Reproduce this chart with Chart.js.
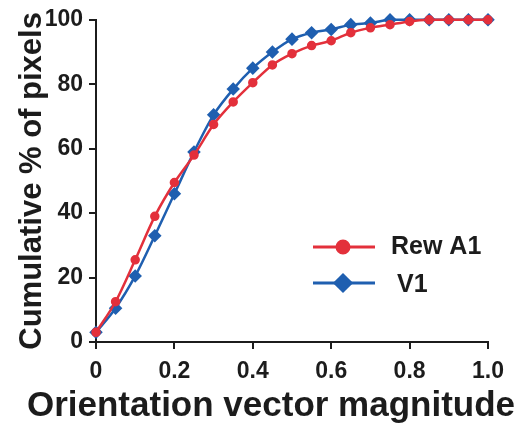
<!DOCTYPE html>
<html>
<head>
<meta charset="utf-8">
<script src="https://cdn.jsdelivr.net/npm/chart.js@4/dist/chart.umd.min.js"></script>
<style>
  html, body { margin: 0; padding: 0; background: #fff; }
  #wrap { width: 528px; height: 430px; }
</style>
</head>
<body>
<div id="wrap"><canvas id="cdf"></canvas></div>
<script>
// magnitude bins (x) and cumulative % for each area
const magnitudes = [0, 0.05, 0.1, 0.15, 0.2, 0.25, 0.3, 0.35, 0.4, 0.45, 0.5,
                    0.55, 0.6, 0.65, 0.7, 0.75, 0.8, 0.85, 0.9, 0.95, 1.0];
const rewA1 = [3, 12.5, 25.5, 39, 49.5, 58, 67.5, 74.5, 80.5, 86, 89.5,
               92, 93.5, 96, 97.5, 98.5, 99.5, 100, 100, 100, 100];
const v1 = [3, 10.5, 20.5, 33, 46, 59, 70.5, 78.5, 85, 90, 94,
            96, 97, 98.5, 99, 100, 100, 100, 100, 100, 100];
const xTicks = [0, 0.2, 0.4, 0.6, 0.8, 1.0];
const yTicks = [0, 20, 40, 60, 80, 100];

const RED = '#e3303b';
const BLUE = '#1f5fb0';
const INK = '#1c1c1c';
const FONT = '"Liberation Sans", Arial, sans-serif';

function toPoints(ys) {
    return magnitudes.map(function(x, i) { return { x: x, y: ys[i] }; });
}

// legend drawn inside the plot, lower right (line + marker like the figure)
const insideLegend = {
    id: 'insideLegend',
    afterDatasetsDraw: function(chart) {
        const ctx = chart.ctx;
        const rows = [{ y: 247, ty: 247 }, { y: 283, ty: 285 }];
        chart.data.datasets.forEach(function(ds, i) {
            const r = rows[i];
            ctx.save();
            ctx.strokeStyle = ds.borderColor;
            ctx.lineWidth = 3;
            ctx.beginPath();
            ctx.moveTo(313, r.y);
            ctx.lineTo(375, r.y);
            ctx.stroke();
            ctx.fillStyle = ds.backgroundColor;
            ctx.strokeStyle = ds.borderColor;
            Chart.helpers.drawPoint(ctx, {
                pointStyle: ds.pointStyle,
                radius: ds.pointStyle === 'circle' ? 6 : 8,
                borderWidth: 1
            }, 343, r.y);
            ctx.fillStyle = INK;
            ctx.font = 'bold 25px ' + FONT;
            ctx.textBaseline = 'middle';
            ctx.fillText(ds.label, i === 0 ? 391 : 397, r.ty);
            ctx.restore();
        });
    }
};

const ctx = document.getElementById('cdf').getContext('2d');
new Chart(ctx, {
    type: 'line',
    data: {
        datasets: [
            {
                label: 'Rew A1',
                data: toPoints(rewA1),
                borderColor: RED,
                backgroundColor: RED,
                borderWidth: 2.5,
                pointStyle: 'circle',
                pointRadius: 3.5,
                tension: 0.3,
                clip: false
            },
            {
                label: 'V1',
                data: toPoints(v1),
                borderColor: BLUE,
                backgroundColor: BLUE,
                borderWidth: 2.5,
                pointStyle: 'rectRot',
                pointRadius: 5,
                tension: 0.3,
                clip: false,
                order: 1
            }
        ]
    },
    options: {
        responsive: true,
        maintainAspectRatio: false,
        animation: false,
        layout: { padding: { top: 19, right: 0, left: 14, bottom: 0 } },
        plugins: {
            legend: { display: false },
            tooltip: { enabled: false },
            title: {
                display: true,
                position: 'bottom',
                text: 'Orientation vector magnitude',
                color: INK,
                font: { family: FONT, size: 35, weight: 'bold' },
                padding: { top: 0, bottom: 3 }
            }
        },
        scales: {
            x: {
                type: 'linear',
                min: 0,
                max: 1,
                afterFit: function(scale) { scale.height = 43; },
                afterBuildTicks: function(scale) {
                    scale.ticks = xTicks.map(function(v) { return { value: v }; });
                },
                grid: { drawOnChartArea: false, drawTicks: true, tickLength: 7, color: INK, lineWidth: 2 },
                border: { display: true, color: INK, width: 2 },
                ticks: {
                    color: INK,
                    padding: 9,
                    maxRotation: 0,
                    autoSkip: false,
                    font: { family: FONT, size: 23, weight: 'bold' },
                    callback: function(v) { return v === 0 ? '0' : v.toFixed(1); }
                }
            },
            y: {
                min: 0,
                max: 100,
                afterFit: function(scale) { scale.width = 82; },
                afterBuildTicks: function(scale) {
                    scale.ticks = yTicks.map(function(v) { return { value: v }; });
                },
                grid: { drawOnChartArea: false, drawTicks: true, tickLength: 7, color: INK, lineWidth: 2 },
                border: { display: true, color: INK, width: 2 },
                title: {
                    display: true,
                    text: 'Cumulative % of pixels',
                    color: INK,
                    font: { family: FONT, size: 31, weight: 'bold' },
                    padding: { top: 0, bottom: 6 }
                },
                ticks: {
                    color: INK,
                    padding: 6,
                    font: { family: FONT, size: 23, weight: 'bold' }
                }
            },
            // empty right-hand spacer so the plot ends at 1.0 like the figure
            spacer: {
                position: 'right',
                display: true,
                afterFit: function(scale) { scale.width = 40; },
                grid: { display: false },
                border: { display: false },
                ticks: { display: false }
            }
        }
    },
    plugins: [insideLegend]
});
</script>
</body>
</html>
